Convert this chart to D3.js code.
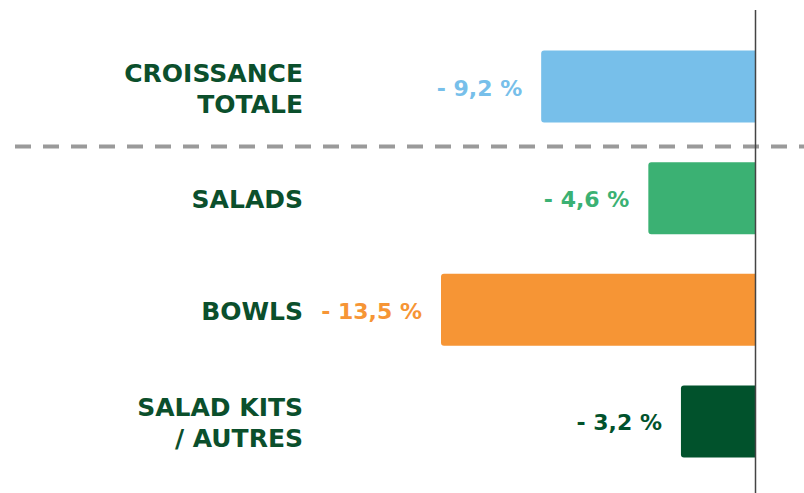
<!DOCTYPE html>
<html>
<head>
<meta charset="utf-8">
<script src="https://cdn.jsdelivr.net/npm/d3@7"></script>
<style>
  body { margin: 0; background: #fff; }
  svg { display: block; }
</style>
</head>
<body>
<svg width="804" height="493"></svg>
<script>
// data
const categories = ["CROISSANCE TOTALE", "SALADS", "BOWLS", "SALAD KITS / AUTRES"];
const labelLines = [["CROISSANCE", "TOTALE"], ["SALADS"], ["BOWLS"], ["SALAD KITS", "/ AUTRES"]];
const values = [-9.2, -4.6, -13.5, -3.2];
const valueLabels = ["- 9,2 %", "- 4,6 %", "- 13,5 %", "- 3,2 %"];
const colors = ["#77bfea", "#3bb173", "#f69535", "#01522c"];

var svg = d3.select("svg"),
    width = +svg.attr("width"),
    height = +svg.attr("height");

var labelColor = "#0b4f2c",
    font = "'DejaVu Sans', sans-serif";

var x = d3.scaleLinear()
    .domain([d3.min(values), 0])
    .range([441, 755.5]);

var y = d3.scaleBand()
    .domain(categories)
    .range([50.5, 457.5])
    .paddingInner(0.355)
    .paddingOuter(0);

// bars, rounded on the left side only
function barPath(x0, x1, y0, h, r) {
  var p = d3.path();
  p.moveTo(x1, y0);
  p.lineTo(x0 + r, y0);
  p.arcTo(x0, y0, x0, y0 + r, r);
  p.lineTo(x0, y0 + h - r);
  p.arcTo(x0, y0 + h, x0 + r, y0 + h, r);
  p.lineTo(x1, y0 + h);
  p.closePath();
  return p.toString();
}

svg.append("g").selectAll("path")
  .data(categories)
  .join("path")
    .attr("d", (d, i) => barPath(x(values[i]), x(0), y(d), y.bandwidth(), 3))
    .attr("fill", (d, i) => colors[i]);

// value labels
svg.append("g").selectAll("text")
  .data(categories)
  .join("text")
    .attr("x", (d, i) => x(values[i]) - 19)
    .attr("y", d => y(d) + y.bandwidth() / 2 + 9)
    .attr("text-anchor", "end")
    .attr("font-family", font)
    .attr("font-weight", "bold")
    .attr("font-size", 22)
    .attr("fill", (d, i) => colors[i])
    .text((d, i) => valueLabels[i]);

// category labels
var cat = svg.append("g").selectAll("text")
  .data(categories)
  .join("text")
    .attr("text-anchor", "end")
    .attr("font-family", font)
    .attr("font-weight", "bold")
    .attr("font-size", 25)
    .attr("fill", labelColor);

cat.each(function(d, i) {
  var lines = labelLines[i],
      cy = y(d) + y.bandwidth() / 2,
      first = cy + 10 - (lines.length - 1) * 15;
  d3.select(this).selectAll("tspan")
    .data(lines)
    .join("tspan")
      .attr("x", 303)
      .attr("y", (l, j) => first + j * 31)
      .text(l => l);
});

// dashed separator under the total
var sepY = y(categories[0]) + y.bandwidth() + 24;
svg.append("line")
    .attr("x1", 15).attr("x2", width)
    .attr("y1", sepY).attr("y2", sepY)
    .attr("stroke", "#9a9a9a")
    .attr("stroke-width", 4)
    .attr("stroke-dasharray", "16 12");

// zero line
svg.append("line")
    .attr("x1", x(0)).attr("x2", x(0))
    .attr("y1", 10).attr("y2", height)
    .attr("stroke", "#444")
    .attr("stroke-width", 1.5);
</script>
</body>
</html>
